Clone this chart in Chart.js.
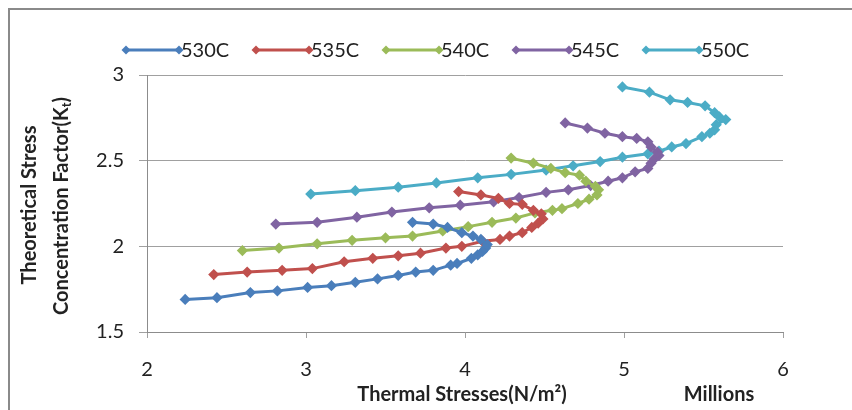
<!DOCTYPE html>
<html>
<head>
<meta charset="utf-8">
<script src="https://cdn.jsdelivr.net/npm/chart.js@4.4.0/dist/chart.umd.min.js"></script>
<style>
  body { margin: 0; background: #fff; }
  #wrap { width: 852px; height: 410px; }
</style>
</head>
<body>
<div id="wrap"><canvas id="ktChart"></canvas></div>
<script>
// series names
var seriesNames = ['530C', '535C', '540C', '545C', '550C'];
var seriesColors = ['#4a7ebb', '#c0504d', '#9bbb59', '#8064a2', '#4bacc6'];

// thermal stress (millions N/m2) and Kt for each temperature
var s530x = [2.24, 2.44, 2.65, 2.82, 3.01, 3.16, 3.31, 3.45, 3.58, 3.69, 3.80, 3.91, 3.95, 4.04, 4.08, 4.11, 4.13, 4.14, 4.10, 4.05, 3.98, 3.89, 3.80, 3.67];
var s530y = [1.69, 1.70, 1.73, 1.74, 1.76, 1.77, 1.79, 1.81, 1.83, 1.85, 1.86, 1.89, 1.90, 1.93, 1.95, 1.97, 1.99, 2.01, 2.04, 2.06, 2.08, 2.11, 2.13, 2.14];

var s535x = [2.42, 2.63, 2.85, 3.04, 3.24, 3.42, 3.58, 3.72, 3.88, 3.98, 4.11, 4.22, 4.28, 4.36, 4.42, 4.46, 4.49, 4.48, 4.43, 4.36, 4.28, 4.21, 4.10, 3.96];
var s535y = [1.835, 1.85, 1.86, 1.87, 1.91, 1.93, 1.945, 1.96, 1.99, 2.00, 2.03, 2.04, 2.06, 2.08, 2.11, 2.135, 2.16, 2.19, 2.21, 2.245, 2.25, 2.28, 2.30, 2.32];

var s540x = [2.60, 2.83, 3.07, 3.29, 3.50, 3.67, 3.86, 4.02, 4.17, 4.32, 4.44, 4.55, 4.61, 4.71, 4.78, 4.83, 4.84, 4.82, 4.76, 4.72, 4.63, 4.54, 4.43, 4.29];
var s540y = [1.975, 1.99, 2.015, 2.035, 2.05, 2.06, 2.09, 2.115, 2.14, 2.165, 2.195, 2.21, 2.22, 2.25, 2.275, 2.30, 2.33, 2.35, 2.38, 2.415, 2.43, 2.455, 2.485, 2.515];

var s545x = [2.81, 3.07, 3.32, 3.54, 3.775, 3.97, 4.18, 4.34, 4.51, 4.65, 4.79, 4.90, 4.99, 5.07, 5.15, 5.17, 5.19, 5.22, 5.21, 5.17, 5.15, 5.08, 4.99, 4.88, 4.77, 4.63];
var s545y = [2.13, 2.14, 2.17, 2.20, 2.225, 2.24, 2.26, 2.285, 2.315, 2.33, 2.355, 2.38, 2.40, 2.435, 2.455, 2.485, 2.51, 2.53, 2.55, 2.58, 2.61, 2.63, 2.64, 2.66, 2.69, 2.72];

var s550x = [3.03, 3.31, 3.58, 3.82, 4.08, 4.29, 4.51, 4.68, 4.85, 4.99, 5.15, 5.22, 5.30, 5.39, 5.49, 5.54, 5.57, 5.58, 5.64, 5.60, 5.57, 5.51, 5.40, 5.29, 5.16, 4.99];
var s550y = [2.305, 2.325, 2.345, 2.37, 2.40, 2.42, 2.445, 2.47, 2.495, 2.52, 2.54, 2.555, 2.58, 2.60, 2.64, 2.66, 2.68, 2.71, 2.74, 2.755, 2.78, 2.82, 2.84, 2.855, 2.90, 2.93];

// axis ticks
var xTicks = [2, 3, 4, 5, 6];
var yTicks = [1.5, 2, 2.5, 3];

var allX = [s530x, s535x, s540x, s545x, s550x];
var allY = [s530y, s535y, s540y, s545y, s550y];

function toPoints(xs, ys) {
  return xs.map(function (x, i) { return { x: x, y: ys[i] }; });
}

var datasets = seriesNames.map(function (name, i) {
  return {
    label: name,
    data: toPoints(allX[i], allY[i]),
    borderColor: seriesColors[i],
    backgroundColor: seriesColors[i],
    borderWidth: 3,
    pointStyle: 'rectRot',
    pointRadius: 3.5,
    pointHoverRadius: 3.5,
    showLine: true,
    tension: 0
  };
});

var FONT = 'Lato, "Liberation Sans", sans-serif';
var TEXT = '#222';

function diamond(ctx, x, y, r) {
  ctx.beginPath();
  ctx.moveTo(x, y - r);
  ctx.lineTo(x + r, y);
  ctx.lineTo(x, y + r);
  ctx.lineTo(x - r, y);
  ctx.closePath();
  ctx.fill();
}

// frame, legend and axis titles
var decorPlugin = {
  id: 'decor',
  beforeDraw: function (chart) {
    var ctx = chart.ctx;
    ctx.save();
    ctx.fillStyle = '#fff';
    ctx.fillRect(0, 0, chart.width, chart.height);
    ctx.strokeStyle = '#8a8a8a';
    ctx.lineWidth = 2;
    ctx.beginPath();
    ctx.moveTo(9, chart.height);
    ctx.lineTo(9, 9);
    ctx.lineTo(chart.width, 9);
    ctx.stroke();
    ctx.restore();
  },
  afterDraw: function (chart) {
    var ctx = chart.ctx;
    ctx.save();
    // legend
    ctx.font = '20px ' + FONT;
    ctx.textBaseline = 'middle';
    ctx.textAlign = 'left';
    chart.data.datasets.forEach(function (ds, i) {
      var x0 = 125 + 130 * i, y0 = 50;
      ctx.strokeStyle = ds.borderColor;
      ctx.fillStyle = ds.borderColor;
      ctx.lineWidth = 3;
      ctx.beginPath();
      ctx.moveTo(x0, y0);
      ctx.lineTo(x0 + 55, y0);
      ctx.stroke();
      diamond(ctx, x0 + 1, y0, 4.5);
      diamond(ctx, x0 + 54, y0, 4.5);
      ctx.fillStyle = TEXT;
      ctx.fillText(ds.label, x0 + 56, y0 + 1);
    });

    // x title
    ctx.font = 'bold 20px ' + FONT;
    ctx.textAlign = 'center';
    ctx.fillText('Thermal Stresses(N/m\u00b2)', 462, 395);
    ctx.fillText('Millions', 719, 395);

    // y title, two lines, rotated
    ctx.translate(30, 205);
    ctx.rotate(-Math.PI / 2);
    ctx.fillText('Theoretical Stress', 0, 0);
    ctx.rotate(Math.PI / 2);
    ctx.translate(32, 1);
    ctx.rotate(-Math.PI / 2);
    var a = 'Concentration Factor(K', b = 't', c = ')';
    ctx.font = 'bold 20px ' + FONT;
    var wa = ctx.measureText(a).width, wc = ctx.measureText(c).width;
    ctx.font = 'bold 13px ' + FONT;
    var wb = ctx.measureText(b).width;
    var start = -(wa + wb + wc) / 2;
    ctx.textAlign = 'left';
    ctx.font = 'bold 20px ' + FONT;
    ctx.fillText(a, start, 0);
    ctx.font = 'bold 13px ' + FONT;
    ctx.fillText(b, start + wa, 5);
    ctx.font = 'bold 20px ' + FONT;
    ctx.fillText(c, start + wa + wb, 0);
    ctx.restore();
  }
};

function plainLabel(value) {
  return String(value);
}

var ctx = document.getElementById('ktChart').getContext('2d');
var ktChart = new Chart(ctx, {
  type: 'scatter',
  data: { datasets: datasets },
  options: {
    responsive: true,
    maintainAspectRatio: false,
    animation: false,
    layout: { padding: { left: 0, right: 69, top: 75, bottom: 0 } },
    plugins: {
      legend: { display: false },
      tooltip: { enabled: false }
    },
    scales: {
      x: {
        type: 'linear',
        min: 2,
        max: 6,
        afterFit: function (scale) { scale.height = 78; },
        afterBuildTicks: function (scale) {
          scale.ticks = xTicks.map(function (v) { return { value: v }; });
        },
        ticks: { color: TEXT, font: { family: FONT, size: 20 }, padding: 20, callback: plainLabel },
        grid: { drawOnChartArea: false, color: '#a0a0a0', tickLength: 6 },
        border: { color: '#8c8c8c', width: 1 }
      },
      y: {
        type: 'linear',
        min: 1.5,
        max: 3,
        afterFit: function (scale) { scale.width = 147; },
        afterBuildTicks: function (scale) {
          scale.ticks = yTicks.map(function (v) { return { value: v }; });
        },
        ticks: { color: TEXT, font: { family: FONT, size: 20 }, padding: 15, callback: plainLabel },
        grid: { color: '#a0a0a0', tickLength: 8 },
        border: { color: '#8c8c8c', width: 1 }
      }
    }
  },
  plugins: [decorPlugin]
});
</script>
</body>
</html>
